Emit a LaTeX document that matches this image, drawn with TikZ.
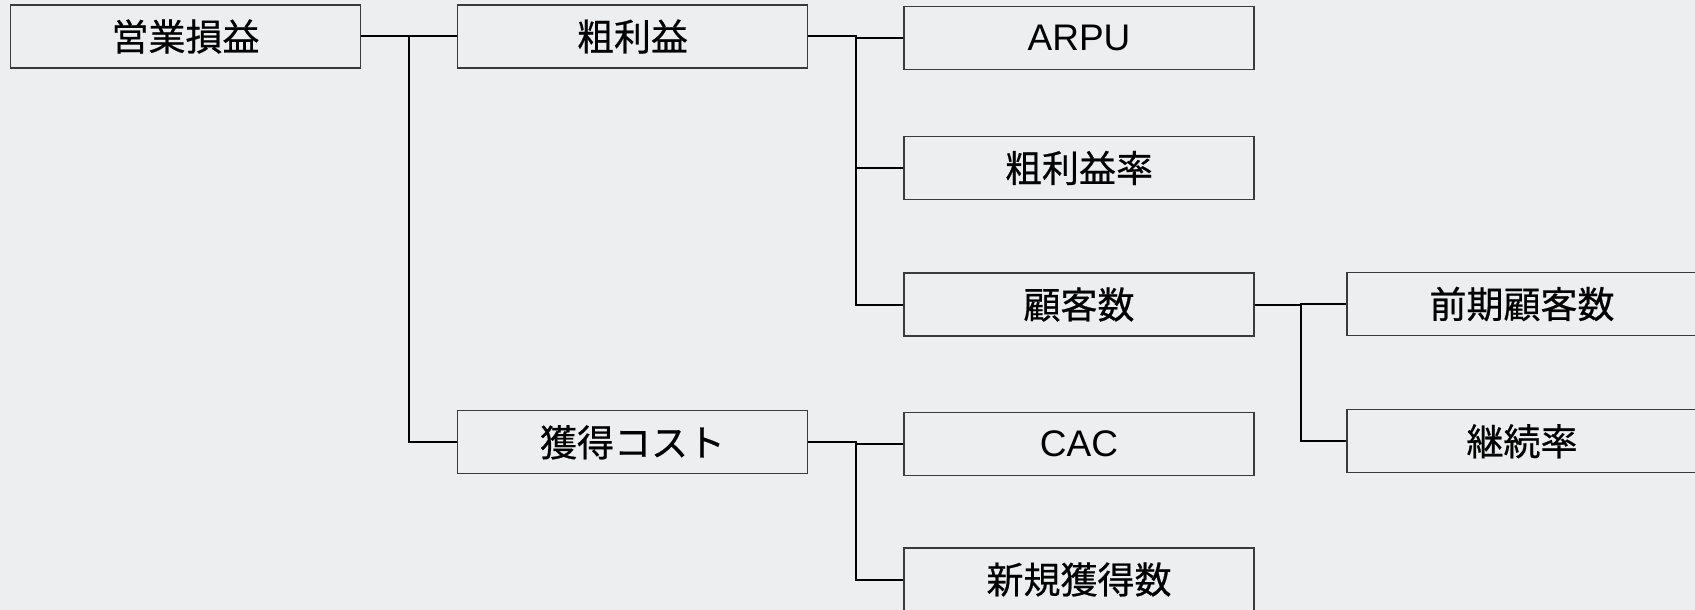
\documentclass[tikz,border=0pt]{standalone}
\usepackage{fontspec}
\setmainfont{Liberation Sans}
\newfontfamily\jpfont[FakeBold=0.6]{Noto Sans CJK JP}
\usetikzlibrary{calc}
\definecolor{bgcol}{HTML}{EDEEF0}
\definecolor{boxline}{HTML}{3A3A3A}
\tikzset{
  kpibox/.style={draw=boxline, line width=1.2pt, fill=bgcol, minimum width=350pt,
    minimum height=63pt, inner sep=0pt, anchor=center, text=black},
  jp/.style={font=\jpfont\fontsize{37}{42}\selectfont},
  lat/.style={font=\fontsize{37}{42}\selectfont},
  link/.style={draw=black, line width=2pt}
}
\newcommand{\elbow}[2]{\draw[link] (#1.east) -| ($(#1.east)!0.5!(#2.west)$) |- (#2.west);}
\begin{document}
\begin{tikzpicture}[x=1pt,y=-1pt]
\fill[bgcol] (0,0) rectangle (1695,610);
\clip (0,0) rectangle (1695,610);
\node[kpibox,jp] (op) at (185.5,36.5) {営業損益};
\node[kpibox,jp] (gp) at (632.5,36.5) {粗利益};
\node[kpibox,jp] (ac) at (632.5,442.3) {獲得コスト};
\node[kpibox,lat] (arpu) at (1079,38) {ARPU};
\node[kpibox,jp] (gpr) at (1079,168) {粗利益率};
\node[kpibox,jp] (cust) at (1079,304.5) {顧客数};
\node[kpibox,lat] (cac) at (1079,443.8) {CAC};
\node[kpibox,jp] (newc) at (1079,579.5) {新規獲得数};
\node[kpibox,jp] (prev) at (1522,304) {前期顧客数};
\node[kpibox,jp] (ret) at (1522,441.3) {継続率};
\elbow{op}{gp}
\elbow{op}{ac}
\elbow{gp}{arpu}
\elbow{gp}{gpr}
\elbow{gp}{cust}
\elbow{ac}{cac}
\elbow{ac}{newc}
\elbow{cust}{prev}
\elbow{cust}{ret}
\end{tikzpicture}
\end{document}
